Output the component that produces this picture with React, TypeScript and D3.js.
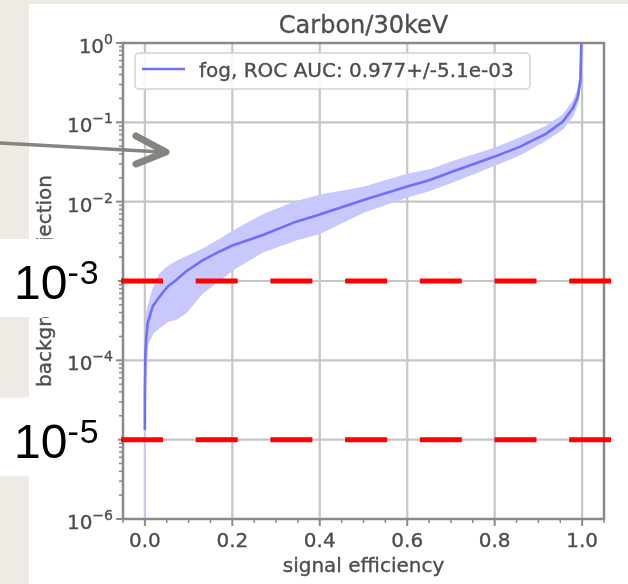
import React from 'react';
import * as d3 from 'd3';

// signal efficiency (tpr) and background rejection (fpr): mean, upper and lower band
const tpr = [0, 0, 0.001, 0.003, 0.0064, 0.018, 0.033, 0.052, 0.071, 0.094, 0.132, 0.17, 0.2, 0.27, 0.346, 0.4, 0.5, 0.6, 0.65, 0.704, 0.8, 0.857, 0.918, 0.956, 0.979, 0.99, 0.996, 0.998];
const fprMean = [1.32e-5, 4.0e-5, 1.12e-4, 1.9e-4, 2.95e-4, 4.8e-4, 6.3e-4, 8.5e-4, 1.02e-3, 1.32e-3, 1.82e-3, 2.34e-3, 2.8e-3, 3.8e-3, 5.6e-3, 6.9e-3, 1.05e-2, 1.55e-2, 1.86e-2, 2.4e-2, 3.7e-2, 4.9e-2, 7.2e-2, 0.102, 0.151, 0.209, 0.339, 1];
const fprUpper = [1.32e-5, 6.3e-5, 2.0e-4, 3.2e-4, 4.5e-4, 7.6e-4, 1.2e-3, 1.51e-3, 1.74e-3, 2.0e-3, 2.5e-3, 3.3e-3, 4.2e-3, 6.8e-3, 1.0e-2, 1.2e-2, 1.51e-2, 2.2e-2, 2.5e-2, 3.2e-2, 4.7e-2, 6.3e-2, 8.9e-2, 0.123, 0.182, 0.251, 0.38, 1];
const fprLower = [1e-6, 1e-6, 2.5e-5, 7.9e-5, 1.6e-4, 2.2e-4, 2.6e-4, 3.1e-4, 3.3e-4, 4.0e-4, 7.1e-4, 1.02e-3, 1.38e-3, 2.34e-3, 3.3e-3, 4.0e-3, 7.4e-3, 1.15e-2, 1.38e-2, 1.78e-2, 2.9e-2, 3.9e-2, 6.0e-2, 8.3e-2, 0.123, 0.178, 0.316, 1];

const xTicks = [0, 0.2, 0.4, 0.6, 0.8, 1.0];
const yExponents = [0, -1, -2, -3, -4, -5, -6];
// the slide covers these tick labels with its own boxes
const coveredExponents = [-3, -5];
const markedLevels = [1e-3, 1e-5];
const markedExponents = ['-3', '-5'];

const title = 'Carbon/30keV';
const legendText = 'fog, ROC AUC: 0.977+/-5.1e-03';

const W = 628;
const H = 584;
const plot = { left: 123, right: 604, top: 43, bottom: 519 };
const font = 'DejaVu Sans, sans-serif';
const textColor = '#4e4e4e';
const spineColor = '#8a8a8a';
const gridColor = '#c6c6c6';
const lineColor = '#6e6eff';
const bandColor = '#c8c8ff';
const beige = '#eeebe5';

export default function App() {
  const x = d3.scaleLinear().domain([-0.05, 1.05]).range([plot.left, plot.right]);
  const y = d3.scaleLog().domain([1e-6, 1]).range([plot.bottom, plot.top]);

  const idx = tpr.map((_, i) => i);
  const band = d3
    .area<number>()
    .x((i) => x(tpr[i]))
    .y0((i) => y(fprLower[i]))
    .y1((i) => y(fprUpper[i]));
  const line = d3
    .line<number>()
    .x((i) => x(tpr[i]))
    .y((i) => y(fprMean[i]));

  const xMinor = d3.range(-1, 22).map((k) => k * 0.05).filter((v) => !xTicks.some((t) => Math.abs(t - v) < 1e-9));
  const yMinor: number[] = [];
  for (let e = -6; e < 0; e++) for (let m = 2; m <= 9; m++) yMinor.push(m * Math.pow(10, e));

  const cx = (plot.left + plot.right) / 2;
  const cy = (plot.top + plot.bottom) / 2;
  const txt = { fontFamily: font, fill: textColor, stroke: textColor, strokeWidth: 0.35 };

  return (
    <svg width={W} height={H} style={{ position: 'absolute', left: 0, top: 0 }}>
      <defs>
        <clipPath id="plotClip">
          <rect x={plot.left} y={plot.top} width={plot.right - plot.left} height={plot.bottom - plot.top} />
        </clipPath>
        <filter id="soft" x="-5%" y="-5%" width="110%" height="110%">
          <feGaussianBlur stdDeviation="0.7" />
        </filter>
      </defs>

      {/* slide background */}
      <rect x={0} y={0} width={W} height={H} fill={beige} />
      <rect x={29} y={4} width={W - 29} height={H - 4} fill="#fff" />

      <g filter="url(#soft)">
        {/* grid */}
        {xTicks.map((t) => (
          <line key={'gx' + t} x1={x(t)} x2={x(t)} y1={plot.top} y2={plot.bottom} stroke={gridColor} strokeWidth={2.2} />
        ))}
        {yExponents.map((e) => (
          <line key={'gy' + e} x1={plot.left} x2={plot.right} y1={y(Math.pow(10, e))} y2={y(Math.pow(10, e))} stroke={gridColor} strokeWidth={2.2} />
        ))}

        {/* band and mean curve */}
        <g clipPath="url(#plotClip)">
          <path d={band(idx) || ''} fill={bandColor} stroke={bandColor} strokeWidth={1.5} />
          <path d={line(idx) || ''} fill="none" stroke={lineColor} strokeWidth={2.6} />
        </g>

        {/* spines */}
        <rect x={plot.left} y={plot.top} width={plot.right - plot.left} height={plot.bottom - plot.top} fill="none" stroke={spineColor} strokeWidth={2.5} />

        {/* x ticks */}
        {xTicks.map((t) => (
          <g key={'xt' + t}>
            <line x1={x(t)} x2={x(t)} y1={plot.bottom} y2={plot.bottom + 7} stroke={spineColor} strokeWidth={2} />
            <text x={x(t)} y={plot.bottom + 28} textAnchor="middle" fontSize={20} {...txt}>
              {t.toFixed(1)}
            </text>
          </g>
        ))}
        {xMinor.map((v, i) => (
          <line key={'xm' + i} x1={x(v)} x2={x(v)} y1={plot.bottom} y2={plot.bottom + 4} stroke={spineColor} strokeWidth={1.5} />
        ))}

        {/* y ticks */}
        {yExponents.map((e) => {
          const ty = y(Math.pow(10, e));
          return (
            <g key={'yt' + e}>
              <line x1={plot.left - 7} x2={plot.left} y1={ty} y2={ty} stroke={spineColor} strokeWidth={2} />
              {!coveredExponents.includes(e) && (
                <text x={plot.left - 10} y={ty + 10} textAnchor="end" fontSize={20} {...txt}>
                  10
                  <tspan fontSize={14} dy={-9}>
                    {e === 0 ? '0' : '\u2212' + Math.abs(e)}
                  </tspan>
                </text>
              )}
            </g>
          );
        })}
        {yMinor.map((v, i) => (
          <line key={'ym' + i} x1={plot.left - 4} x2={plot.left} y1={y(v)} y2={y(v)} stroke={spineColor} strokeWidth={1.5} />
        ))}

        {/* titles */}
        <text x={cx} y={33} textAnchor="middle" fontSize={24} {...txt}>
          {title}
        </text>
        <text x={cx} y={572} textAnchor="middle" fontSize={20} {...txt}>
          signal efficiency
        </text>
        <text transform={`translate(51, ${cy}) rotate(-90)`} textAnchor="middle" fontSize={20} {...txt}>
          background rejection
        </text>

        {/* legend */}
        <rect x={135} y={53} width={395} height={36} rx={4} fill="#fff" fillOpacity={0.85} stroke="#d2d2d2" strokeWidth={1.5} />
        <line x1={142} x2={185} y1={69} y2={69} stroke={lineColor} strokeWidth={2.6} />
        <text x={199} y={77} fontSize={20} {...txt}>
          {legendText}
        </text>
      </g>

      {/* slide annotations */}
      {markedLevels.map((v, i) => {
        const ly = y(v);
        return (
          <g key={'mark' + i}>
            <rect x={0} y={ly - 42} width={118} height={78} fill="#fff" />
            <line x1={121} x2={611} y1={ly} y2={ly} stroke="#ff0000" strokeWidth={5} strokeDasharray="42 32.7" />
            <text x={14} y={ly + 18} fontFamily="Liberation Sans, Arial, sans-serif" fontSize={48} fill="#000">
              10
              <tspan fontSize={34} dy={-15} letterSpacing={1}>
                {markedExponents[i]}
              </tspan>
            </text>
          </g>
        );
      })}

      {/* arrow */}
      <g stroke="#85857e" fill="none" strokeLinecap="round" strokeLinejoin="round">
        <line x1={-2} y1={143} x2={162} y2={152} strokeWidth={3.5} />
        <polyline points="136,136 166,152 136,164" strokeWidth={7} />
      </g>
    </svg>
  );
}
